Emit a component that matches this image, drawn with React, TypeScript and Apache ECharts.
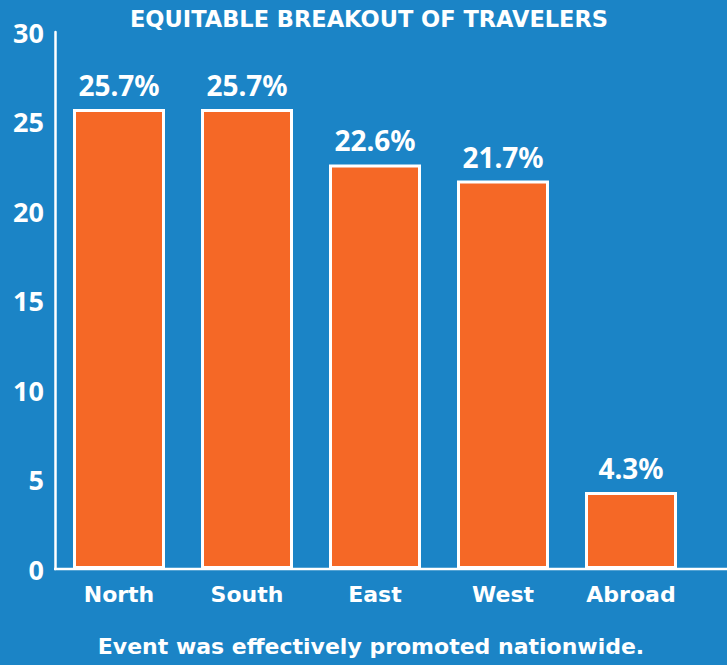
import React, { useEffect, useRef } from "react";
import * as echarts from "echarts";

const categories = ["North", "South", "East", "West", "Abroad"];
const shares = [25.7, 25.7, 22.6, 21.7, 4.3];
const yTicks = { min: 0, max: 30, interval: 5 };
const titleText = "EQUITABLE BREAKOUT OF TRAVELERS";
const footerText = "Event was effectively promoted nationwide.";

const BG = "#1B84C6";
const ORANGE = "#F56826";
const FONT = "'Noto Sans', sans-serif";
const WIDE = "'DejaVu Sans', sans-serif";

export default function App() {
  const ref = useRef<HTMLDivElement>(null);
  useEffect(() => {
    if (!ref.current) return;
    const chart = echarts.init(ref.current, null, { renderer: "svg" });
    chart.setOption({
      animation: false,
      backgroundColor: BG,
      title: [
        {
          text: titleText,
          left: 364,
          textAlign: "center",
          top: 2,
          textStyle: { color: "#fff", fontSize: 22.5, fontWeight: "bold", fontFamily: WIDE },
        },
        {
          text: footerText,
          left: 366,
          textAlign: "center",
          top: 630,
          textStyle: { color: "#fff", fontSize: 22, fontWeight: "bold", fontFamily: WIDE },
        },
      ],
      grid: { left: 55, top: 32, right: 32, bottom: 96, containLabel: false },
      xAxis: {
        type: "category",
        data: categories,
        axisLine: { show: false },
        axisTick: { show: false },
        axisLabel: { color: "#fff", fontSize: 22, fontWeight: "bold", fontFamily: WIDE, margin: 14 },
      },
      yAxis: {
        type: "value",
        min: yTicks.min,
        max: yTicks.max,
        interval: yTicks.interval,
        splitLine: { show: false },
        axisLine: { show: true, lineStyle: { color: "#fff", width: 2.5 } },
        axisTick: { show: false },
        axisLabel: { color: "#fff", fontSize: 27, fontWeight: "bold", fontFamily: FONT, margin: 11 },
      },
      graphic: [
        {
          type: "line",
          shape: { x1: 54, y1: 569, x2: 727, y2: 569 },
          style: { stroke: "#fff", lineWidth: 2.5 },
          z: 0,
        },
      ],
      series: [
        {
          type: "bar",
          data: shares,
          barWidth: 92,
          itemStyle: { color: ORANGE, borderColor: "#fff", borderWidth: 3 },
          label: {
            show: true,
            position: "top",
            distance: 10,
            formatter: "{c}%",
            color: "#fff",
            fontSize: 28,
            fontWeight: "bold",
            fontFamily: FONT,
          },
        },
      ],
    });
    return () => chart.dispose();
  }, []);
  return (
    <div
      ref={ref}
      style={{ position: "fixed", left: 0, top: 0, width: 727, height: 665 }}
    />
  );
}
